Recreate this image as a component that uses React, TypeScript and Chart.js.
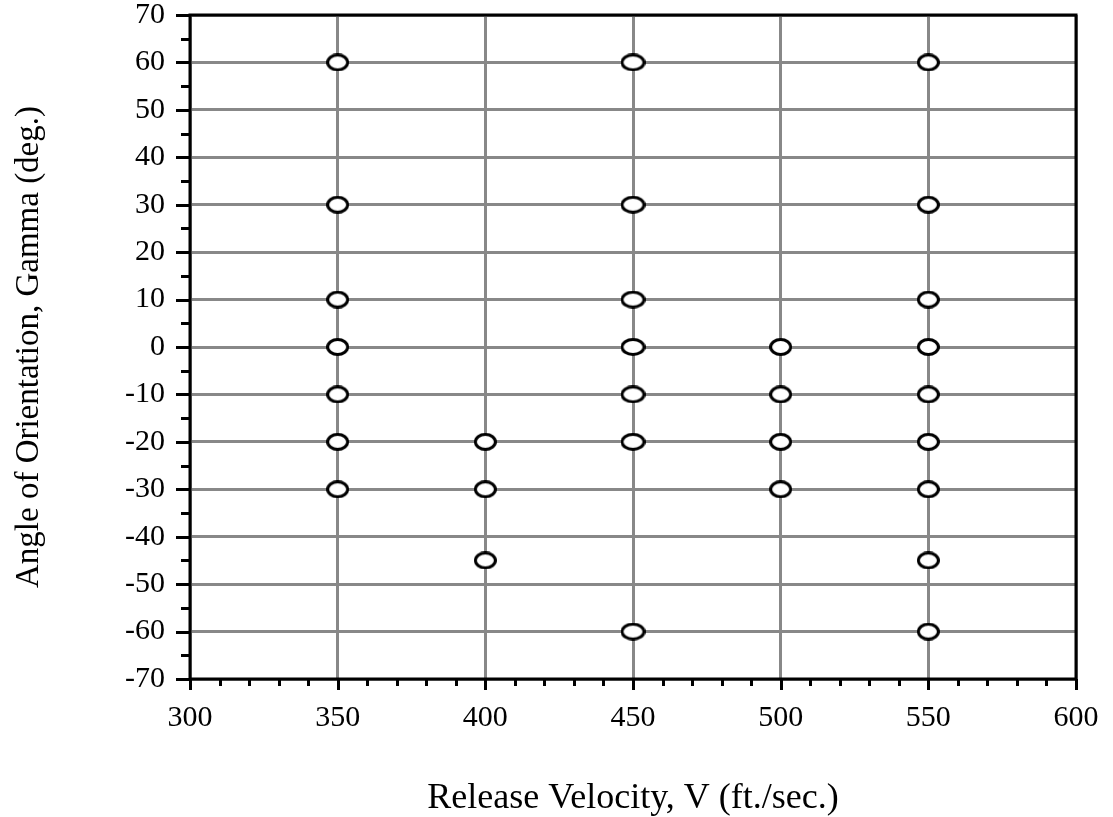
import React, { useEffect, useRef } from "react";
import { Chart, registerables } from "chart.js";

Chart.register(...registerables);

// ---- Data ----
const X_MIN = 300;
const X_MAX = 600;
const X_STEP = 50;
const X_MINOR_STEP = 10;
const Y_MIN = -70;
const Y_MAX = 70;
const Y_STEP = 10;
const Y_MINOR_STEP = 5;

const X_TITLE = "Release Velocity, V (ft./sec.)";
const Y_TITLE = "Angle of Orientation, Gamma (deg.)";

const GAMMA_AT_350 = [60, 30, 10, 0, -10, -20, -30];
const GAMMA_AT_400 = [-20, -30, -45];
const GAMMA_AT_450 = [60, 30, 10, 0, -10, -20, -60];
const GAMMA_AT_500 = [0, -10, -20, -30];
const GAMMA_AT_550 = [60, 30, 10, 0, -10, -20, -30, -45, -60];

const toPoints = (v: number, gammas: number[]) => gammas.map((g) => ({ x: v, y: g }));

const FONT = "'Liberation Serif', 'Times New Roman', serif";

function makeEllipse(w: number, h: number, lw: number): HTMLCanvasElement {
  const c = document.createElement("canvas");
  c.width = w;
  c.height = h;
  const ctx = c.getContext("2d")!;
  ctx.beginPath();
  ctx.ellipse(w / 2, h / 2, w / 2 - lw / 2, h / 2 - lw / 2, 0, 0, Math.PI * 2);
  ctx.fillStyle = "#ffffff";
  ctx.fill();
  ctx.lineWidth = lw;
  ctx.strokeStyle = "#000000";
  ctx.stroke();
  return c;
}

const frameAndTicks = {
  id: "frameAndTicks",
  afterDraw(chart: any) {
    const { ctx, chartArea } = chart;
    const { left, right, top, bottom } = chartArea;
    const xs = chart.scales.x;
    const ys = chart.scales.y;
    ctx.save();
    ctx.strokeStyle = "#000000";
    ctx.lineWidth = 3;
    ctx.lineCap = "butt";
    ctx.beginPath();
    for (let v = Y_MIN; v <= Y_MAX; v += Y_MINOR_STEP) {
      const py = Math.round(ys.getPixelForValue(v)) + 0.5;
      const len = v % Y_STEP === 0 ? 14 : 9;
      ctx.moveTo(left - len, py);
      ctx.lineTo(left, py);
    }
    for (let v = X_MIN; v <= X_MAX; v += X_MINOR_STEP) {
      const px = Math.round(xs.getPixelForValue(v)) + 0.5;
      const len = v % X_STEP === 0 ? 11 : 7;
      ctx.moveTo(px, bottom);
      ctx.lineTo(px, bottom + len);
    }
    ctx.stroke();
    ctx.strokeRect(left, top, right - left, bottom - top);
    ctx.restore();
  },
};

function zeroPadding(scale: any) {
  scale.paddingTop = 0;
  scale.paddingBottom = 0;
  scale.paddingLeft = 0;
  scale.paddingRight = 0;
}

export default function App() {
  const ref = useRef<HTMLCanvasElement | null>(null);

  useEffect(() => {
    if (!ref.current) return;
    const normal = makeEllipse(23, 18, 3);
    const wide = makeEllipse(25, 18, 3);

    const chart = new Chart(ref.current, {
      type: "scatter",
      data: {
        datasets: [
          { label: "350", data: toPoints(350, GAMMA_AT_350), pointStyle: normal as any },
          { label: "400", data: toPoints(400, GAMMA_AT_400), pointStyle: normal as any },
          { label: "450", data: toPoints(450, GAMMA_AT_450), pointStyle: wide as any },
          { label: "500", data: toPoints(500, GAMMA_AT_500), pointStyle: normal as any },
          { label: "550", data: toPoints(550, GAMMA_AT_550), pointStyle: normal as any },
        ],
      },
      options: {
        responsive: false,
        animation: false,
        layout: { padding: { left: 0, right: 37, top: 15, bottom: 0 } },
        plugins: {
          legend: { display: false },
          tooltip: { enabled: false },
        },
        scales: {
          x: {
            type: "linear",
            min: X_MIN,
            max: X_MAX,
            ticks: {
              stepSize: X_STEP,
              color: "#000000",
              padding: 24,
              maxRotation: 0,
              font: { family: FONT, size: 30, lineHeight: 1 },
            },
            grid: { color: "#888888", lineWidth: 3, drawTicks: false },
            border: { display: false },
            title: {
              display: true,
              text: X_TITLE,
              color: "#000000",
              font: { family: FONT, size: 36, lineHeight: 1 },
              padding: { top: 0, bottom: 0 },
            },
            afterFit(scale: any) {
              scale.height = 138;
              zeroPadding(scale);
            },
          },
          y: {
            type: "linear",
            min: Y_MIN,
            max: Y_MAX,
            ticks: {
              stepSize: Y_STEP,
              color: "#000000",
              padding: 25,
              font: { family: FONT, size: 30, lineHeight: 1 },
            },
            grid: { color: "#888888", lineWidth: 3, drawTicks: false },
            border: { display: false },
            title: {
              display: true,
              text: Y_TITLE,
              color: "#000000",
              font: { family: FONT, size: 33, lineHeight: 1.2 },
              padding: { top: 10, bottom: 0 },
            },
            afterFit(scale: any) {
              scale.width = 190;
              zeroPadding(scale);
            },
          },
        },
      },
      plugins: [frameAndTicks],
    });
    return () => chart.destroy();
  }, []);

  return (
    <canvas
      ref={ref}
      width={1113}
      height={817}
      style={{ position: "absolute", left: 0, top: 0, width: 1113, height: 817 }}
    />
  );
}
